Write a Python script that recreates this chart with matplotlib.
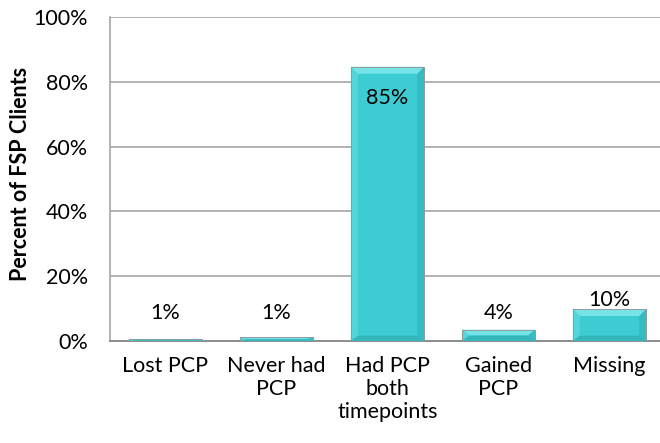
import numpy as np
import matplotlib.pyplot as plt
from matplotlib.patches import Polygon

categories = ["Lost PCP", "Never had\nPCP", "Had PCP\nboth\ntimepoints", "Gained\nPCP", "Missing"]
values = [0.4, 1.0, 84.7, 3.4, 9.8]
labels = ["1%", "1%", "85%", "4%", "10%"]
yticks = [0, 20, 40, 60, 80, 100]

FACE = "#3ECCD3"
TOP = "#76E3E7"
LEFT = "#52D5DB"
RIGHT = "#36BBC1"
BOTTOM = "#34B5BB"
GRID = "#A6A6A6"

plt.rcParams['font.family'] = ['Lato', 'DejaVu Sans']

fig = plt.figure(figsize=(6.6, 4.43), dpi=100)
W, H = 660, 443
ax = fig.add_axes([110 / W, 1 - 340.7 / H, 555 / W, 323.4 / H])

x = np.arange(len(categories))
bars = ax.bar(x, values, width=0.66, color=FACE, edgecolor="#9AA6A8", linewidth=0.6, zorder=3)

ax.set_xlim(-0.5, len(categories) - 0.5)
ax.set_ylim(0, 100)

# bevel: pixel sizes converted into data units
px_x = 1.0 / (555 / len(categories))
px_y = 100.0 / 323.4
for b in bars:
    x0, y0, w, h = b.get_x(), b.get_y(), b.get_width(), b.get_height()
    dx = 7 * px_x
    dyt = min(7 * px_y, h / 2)
    dyb = min(5 * px_y, h / 2)
    x1, y1 = x0 + w, y0 + h
    polys = [
        ([(x0, y0), (x1, y0), (x1 - dx, y0 + dyb), (x0 + dx, y0 + dyb)], BOTTOM),
        ([(x0, y0), (x0, y1), (x0 + dx, y1 - dyt), (x0 + dx, y0 + dyb)], LEFT),
        ([(x1, y0), (x1, y1), (x1 - dx, y1 - dyt), (x1 - dx, y0 + dyb)], RIGHT),
        ([(x0, y1), (x1, y1), (x1 - dx, y1 - dyt), (x0 + dx, y1 - dyt)], TOP),
    ]
    for pts, c in polys:
        ax.add_patch(Polygon(pts, closed=True, facecolor=c, edgecolor="none", zorder=4))
    ax.add_patch(plt.Rectangle((x0, y0), w, h, fill=False, edgecolor="#8E9C9E",
                               linewidth=0.7, zorder=5))

# data labels
for xi, v, lab in zip(x, values, labels):
    if v > 50:
        ax.annotate(lab, (xi, v), xytext=(0, -31), textcoords="offset pixels",
                    ha="center", va="center", fontsize=15.5, zorder=6)
    elif v < 5:
        ax.annotate(lab, (xi, 0), xytext=(0, 27.5), textcoords="offset pixels",
                    ha="center", va="center", fontsize=15.5, zorder=6)
    else:
        ax.annotate(lab, (xi, v), xytext=(0, 9), textcoords="offset pixels",
                    ha="center", va="center", fontsize=15.5, zorder=6)

ax.set_yticks(yticks)
ax.set_yticklabels([f"{t}%" for t in yticks])
ax.set_xticks(x)
ax.set_xticklabels(categories)
ax.tick_params(axis="both", length=0, labelsize=15.5)
ax.tick_params(axis="y", pad=16)
ax.tick_params(axis="x", pad=11)

ax.yaxis.grid(True, color=GRID, linewidth=1.2, zorder=0)
ax.set_axisbelow(True)
for s in ["top", "right"]:
    ax.spines[s].set_visible(False)
ax.spines["left"].set_color(GRID)
ax.spines["left"].set_linewidth(1.2)
ax.spines["bottom"].set_color("#8C8C8C")
ax.spines["bottom"].set_linewidth(1.4)

ax.set_ylabel("Percent of FSP Clients", fontsize=15.5, fontweight="bold", va="center")
ax.yaxis.set_label_coords(-0.162, 0.515)

fig.savefig("out.png", dpi=100)
